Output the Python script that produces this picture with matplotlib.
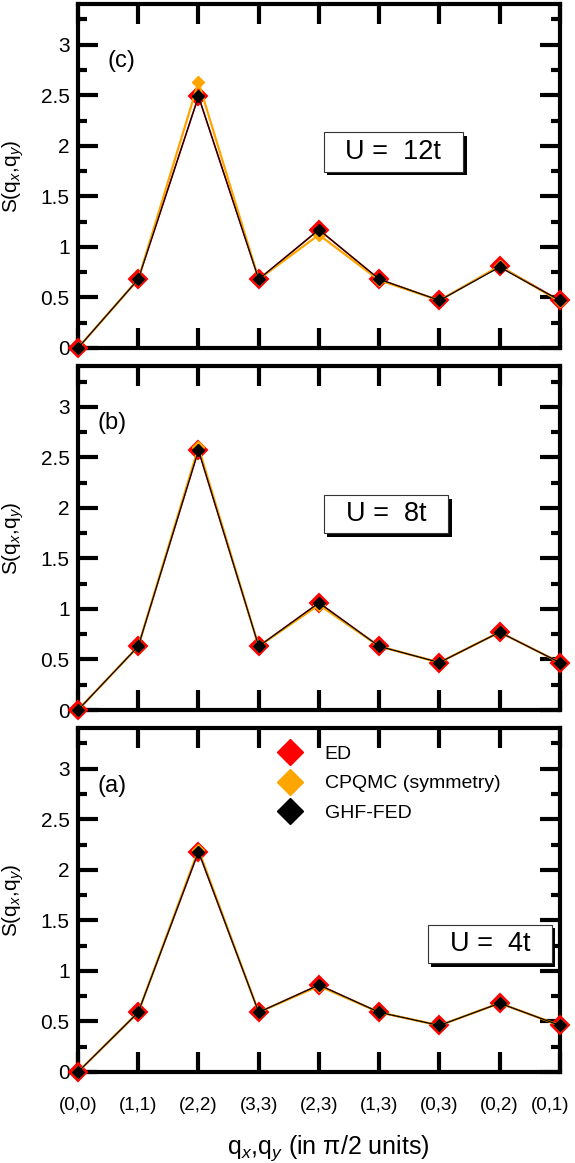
import matplotlib
matplotlib.use('Agg')
import matplotlib.pyplot as plt
import matplotlib.transforms as mtrans
from matplotlib.lines import Line2D
from matplotlib.patches import Rectangle
from matplotlib.ticker import MultipleLocator, FormatStrFormatter

plt.rcParams['font.family'] = ['Liberation Sans', 'DejaVu Sans']
plt.rcParams['mathtext.fontset'] = 'custom'
plt.rcParams['mathtext.rm'] = 'Liberation Sans'
plt.rcParams['mathtext.it'] = 'Liberation Sans:italic'

# data
q_labels = ['(0,0)', '(1,1)', '(2,2)', '(3,3)', '(2,3)', '(1,3)', '(0,3)', '(0,2)', '(0,1)']

ed_12 = [0.0, 0.68, 2.49, 0.68, 1.17, 0.68, 0.47, 0.81, 0.47]
cpqmc_12 = [0.0, 0.68, 2.63, 0.68, 1.12, 0.67, 0.47, 0.81, 0.46]
ghf_12 = [0.0, 0.68, 2.49, 0.68, 1.17, 0.68, 0.47, 0.80, 0.47]

ed_8 = [0.0, 0.63, 2.57, 0.63, 1.06, 0.63, 0.47, 0.77, 0.47]
cpqmc_8 = [0.0, 0.63, 2.60, 0.63, 1.04, 0.63, 0.47, 0.77, 0.47]
ghf_8 = [0.0, 0.63, 2.57, 0.63, 1.06, 0.63, 0.47, 0.77, 0.47]

ed_4 = [0.0, 0.59, 2.18, 0.59, 0.86, 0.59, 0.46, 0.68, 0.46]
cpqmc_4 = [0.0, 0.59, 2.20, 0.59, 0.85, 0.59, 0.46, 0.68, 0.46]
ghf_4 = [0.0, 0.59, 2.18, 0.59, 0.86, 0.59, 0.46, 0.68, 0.46]

u_texts = ['U =  12t', 'U =  8t', 'U =  4t']
panel_tags = ['(c)', '(b)', '(a)']
series_names = ['ED', 'CPQMC (symmetry)', 'GHF-FED']

panels = [(ed_12, cpqmc_12, ghf_12), (ed_8, cpqmc_8, ghf_8), (ed_4, cpqmc_4, ghf_4)]

# layout (figure fractions / axes fractions)
ax_bottoms = [0.7008, 0.3895, 0.0783]
ax_h = 0.2955
tag_xy = [(0.062, 0.834), (0.040, 0.834), (0.040, 0.832)]
box_xy = [(0.510, 0.513, 0.289, 0.114), (0.510, 0.515, 0.258, 0.110), (0.726, 0.316, 0.257, 0.113)]

red = '#ff0000'
orange = '#ffa500'

fig = plt.figure(figsize=(5.75, 11.63), dpi=100)
x = list(range(len(q_labels)))

for i, (ed, cp, ghf) in enumerate(panels):
    ax = fig.add_axes([0.1357, ax_bottoms[i], 0.838, ax_h])
    ax.plot(x, ed, color=red, lw=1.2, marker='D', ms=9, mfc=red, mec=red, mew=1.5,
            clip_on=False, zorder=3)
    ax.plot(x, cp, color=orange, lw=1.6, marker='D', ms=6.6, mfc=orange, mec=orange,
            clip_on=False, zorder=4)
    ax.plot(x, ghf, color='black', lw=0.9, marker='D', ms=6.6, mfc='black', mec='black',
            clip_on=False, zorder=5)

    ax.set_xlim(0, 8)
    ax.set_ylim(0, 3.4)
    ax.set_xticks(x)
    ax.yaxis.set_major_locator(MultipleLocator(0.5))
    ax.yaxis.set_minor_locator(MultipleLocator(0.25))
    ax.yaxis.set_major_formatter(FormatStrFormatter('%g'))
    ax.tick_params(which='both', direction='in', top=True, right=True, width=3)
    ax.tick_params(which='major', length=14.4)
    ax.tick_params(which='minor', length=6.8)
    ax.tick_params(axis='y', labelsize=15, pad=6)
    ax.tick_params(axis='x', labelsize=13.5, pad=18)
    for s in ax.spines.values():
        s.set_linewidth(3)

    if i < 2:
        ax.tick_params(axis='x', labelbottom=False)
    else:
        ax.set_xticklabels(q_labels)
        # last label pulled in a little so it stays inside the figure
        last = ax.get_xticklabels()[-1]
        last.set_transform(last.get_transform()
                           + mtrans.ScaledTranslation(-7 / 72, 0, fig.dpi_scale_trans))
        ax.set_xlabel('q$_x$,q$_y$ (in \u03c0/2 units)', fontsize=18)
        ax.xaxis.set_label_coords(0.52, -0.18)

    ax.set_ylabel('S(q$_x$,q$_y$)', fontsize=15)
    ax.yaxis.set_label_coords(-0.108, 0.5)

    ax.text(tag_xy[i][0], tag_xy[i][1], panel_tags[i], transform=ax.transAxes,
            fontsize=17, va='center', ha='left')

    # U box with shadow
    bx, by, bw, bh = box_xy[i]
    dx, dy = 3.5 / 482, 3.5 / 345
    ax.add_patch(Rectangle((bx + dx, by - dy), bw, bh, transform=ax.transAxes,
                           facecolor='black', edgecolor='none', clip_on=False, zorder=6))
    ax.add_patch(Rectangle((bx, by), bw, bh, transform=ax.transAxes,
                           facecolor='white', edgecolor='#333333', lw=0.8,
                           clip_on=False, zorder=7))
    ax.text(bx + bw / 2, by + bh / 2, u_texts[i], transform=ax.transAxes,
            fontsize=19.5, ha='center', va='center', zorder=8)

    if i == 2:
        handles = [Line2D([], [], ls='none', marker='D', ms=13.7, mfc=c, mec=c)
                   for c in (red, orange, 'black')]
        ax.legend(handles, series_names, loc='upper left', bbox_to_anchor=(0.411, 0.95),
                  frameon=False, fontsize=14, borderpad=0, borderaxespad=0,
                  handlelength=1.4, handletextpad=1.1, labelspacing=0.6)

plt.savefig('out.png', dpi=100)
